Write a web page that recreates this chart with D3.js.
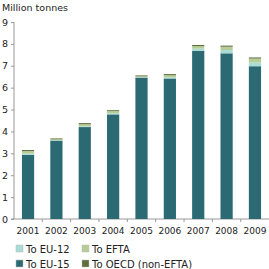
<!DOCTYPE html>
<html>
<head>
<meta charset="utf-8">
<script src="https://cdn.jsdelivr.net/npm/d3@7"></script>
<style>
  body { margin: 0; background: #fff; }
  text { font-family: "DejaVu Sans", Verdana, sans-serif; fill: #222; }
</style>
</head>
<body>
<div id="chart"></div>
<script>
// data
var years = ["2001", "2002", "2003", "2004", "2005", "2006", "2007", "2008", "2009"];
var toEU15 = [2.93, 3.58, 4.20, 4.78, 6.46, 6.42, 7.68, 7.57, 6.98];
var toEU12 = [0.05, 0.02, 0.03, 0.05, 0.02, 0.05, 0.10, 0.15, 0.17];
var toEFTA = [0.12, 0.04, 0.10, 0.10, 0.04, 0.10, 0.12, 0.15, 0.18];
var toOECD = [0.05, 0.04, 0.05, 0.04, 0.04, 0.05, 0.05, 0.05, 0.05];
var seriesNames = ["To EU-15", "To EU-12", "To EFTA", "To OECD (non-EFTA)"];
var yTicks = [0, 1, 2, 3, 4, 5, 6, 7, 8, 9];

var colors = {
  "To EU-15": "#2b6a73",
  "To EU-12": "#a9dcd6",
  "To EFTA": "#b7cd98",
  "To OECD (non-EFTA)": "#5e6d39"
};

var svgWidth = 269, svgHeight = 269;
var margin = {top: 22, right: 0, bottom: 50, left: 14};
var width = svgWidth - margin.left - margin.right;
var height = 219 - margin.top;

var svg = d3.select("#chart").append("svg")
  .attr("width", svgWidth)
  .attr("height", svgHeight);

var chartGroup = svg.append("g")
  .attr("transform", `translate(${margin.left}, ${margin.top})`);

// build table for stacking
var table = years.map(function(y, i) {
  return {year: y, "To EU-15": toEU15[i], "To EU-12": toEU12[i], "To EFTA": toEFTA[i], "To OECD (non-EFTA)": toOECD[i]};
});
var stacked = d3.stack().keys(seriesNames)(table);

var x = d3.scaleBand().domain(years).range([0, width]).paddingInner(0.57).paddingOuter(0.28);
var y = d3.scaleLinear().domain([0, 9]).range([height, 0]);

// y axis
var yAxis = chartGroup.append("g")
  .call(d3.axisLeft(y).tickValues(yTicks).tickSize(3).tickPadding(3));
yAxis.select(".domain").attr("stroke", "#999").attr("d", `M0,0V${height}`);
yAxis.selectAll(".tick line").attr("stroke", "#999");
yAxis.selectAll("text").attr("font-size", 9.5).attr("text-anchor", "start").attr("x", -12);

// x axis with ticks at band boundaries
var xg = chartGroup.append("g").attr("transform", `translate(0, ${height})`);
xg.append("line").attr("x1", -3).attr("x2", width).attr("stroke", "#999");
var step = x.step();
xg.selectAll(".bt").data(years.slice(1)).enter().append("line")
  .attr("x1", (d) => x(d) - (step - x.bandwidth()) / 2)
  .attr("x2", (d) => x(d) - (step - x.bandwidth()) / 2)
  .attr("y1", 0).attr("y2", 3).attr("stroke", "#999");
xg.selectAll("text").data(years).enter().append("text")
  .attr("x", (d) => x(d) + x.bandwidth() / 2)
  .attr("y", 15)
  .attr("text-anchor", "middle")
  .attr("font-size", 9)
  .text((d) => d);

// bars
chartGroup.selectAll(".layer").data(stacked).enter().append("g")
  .attr("fill", (d) => colors[d.key])
  .selectAll("rect").data((d) => d).enter().append("rect")
  .attr("x", (d) => x(d.data.year))
  .attr("y", (d) => y(d[1]))
  .attr("height", (d) => y(d[0]) - y(d[1]))
  .attr("width", x.bandwidth());

// title
svg.append("text").attr("x", 2).attr("y", 11).attr("font-size", 9.5).text("Million tonnes");

// legend
var legendItems = [
  {name: "To EU-12", col: 0, row: 0},
  {name: "To EFTA", col: 1, row: 0},
  {name: "To EU-15", col: 0, row: 1},
  {name: "To OECD (non-EFTA)", col: 1, row: 1}
];
var legend = svg.selectAll(".legend").data(legendItems).enter().append("g")
  .attr("transform", (d) => `translate(${16 + d.col * 66}, ${245 + d.row * 15})`);
legend.append("rect").attr("width", 7).attr("height", 7)
  .attr("fill", (d) => colors[d.name]).attr("stroke", "#bbb").attr("stroke-width", 0.5);
legend.append("text").attr("x", 10).attr("y", 7.5).attr("font-size", 10).text((d) => d.name);
</script>
</body>
</html>
